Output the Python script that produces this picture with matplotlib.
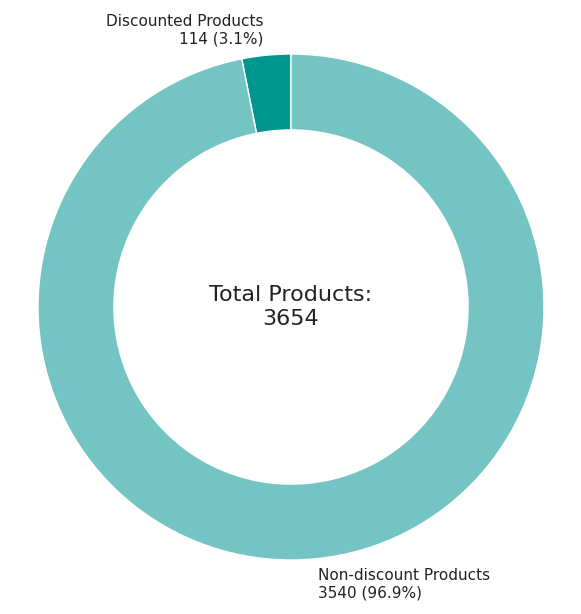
import matplotlib
matplotlib.use("Agg")
import matplotlib.pyplot as plt

categories = ["Discounted Products", "Non-discount Products"]
counts = [114, 3540]
colors = ["#009690", "#73C4C2"]

total = sum(counts)
labels = [f"{c}\n{v} ({v/total*100:.1f}%)" for c, v in zip(categories, counts)]

fig = plt.figure(figsize=(5.81, 6.14), dpi=100)
ax = fig.add_axes([(291-253)/581, (614-307-253)/614, 506/581, 506/614])
ax.pie(counts, labels=labels, colors=colors, startangle=90, counterclock=True,
       wedgeprops=dict(width=0.3, edgecolor="white", linewidth=1),
       textprops=dict(fontsize=11, color="#222222"), labeldistance=1.1)
ax.text(0, 0, f"Total Products:\n{total}", ha="center", va="center", fontsize=16, color="#222222")
ax.set_aspect("equal")
ax.set_xlim(-1, 1); ax.set_ylim(-1, 1)
fig.savefig("out.png", dpi=100)
